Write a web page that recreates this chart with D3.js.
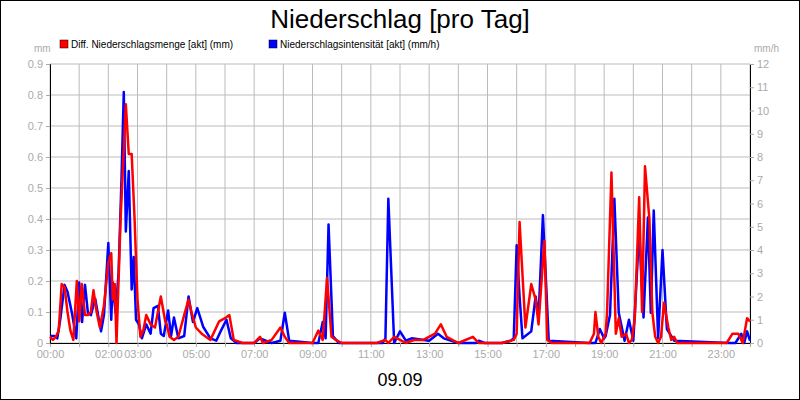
<!DOCTYPE html>
<html><head><meta charset="utf-8">
<script src="https://cdn.jsdelivr.net/npm/d3@7"></script>
<style>body{margin:0;background:#fff}</style></head>
<body><svg id="c" width="800" height="400"></svg>
<script>
const tickHours=[0,2,3,5,7,9,11,13,15,17,19,21,23];
const leftTicks=[0,0.1,0.2,0.3,0.4,0.5,0.6,0.7,0.8,0.9];
const rightTicks=[0,1,2,3,4,5,6,7,8,9,10,11,12];
// red: Diff. Niederschlagsmenge (mm)
const redT=[0,0.1,0.2,0.3,0.4,0.5,0.6,0.7,0.8,0.92,1.0,1.09,1.2,1.3,1.4,1.49,1.6,1.71,1.85,2.0,2.1,2.15,2.22,2.28,2.42,2.6,2.7,2.8,2.9,3.0,3.1,3.2,3.3,3.45,3.6,3.8,3.95,4.0,4.1,4.25,4.4,4.6,4.75,4.85,5.0,5.2,5.5,5.8,6.0,6.15,6.3,6.6,7.0,7.2,7.3,7.6,7.9,8.05,8.2,9.0,9.2,9.35,9.5,9.65,9.8,10.0,10.2,11.2,11.5,11.6,11.8,12.0,12.2,12.5,12.8,13.2,13.4,13.6,14.0,14.5,14.7,14.9,15.5,15.9,16.0,16.1,16.3,16.5,16.65,16.75,16.95,17.05,17.2,18.5,18.65,18.7,18.8,18.9,19.05,19.1,19.25,19.4,19.5,19.6,19.75,19.85,19.95,20.05,20.2,20.3,20.4,20.55,20.65,20.75,20.85,20.95,21.05,21.2,21.3,21.4,21.5,23.2,23.4,23.6,23.75,23.9,24];
const redV=[0.02,0.01,0.02,0.04,0.19,0.18,0.1,0.04,0.01,0.2,0.07,0.19,0.09,0.09,0.1,0.17,0.1,0.05,0.12,0.26,0.29,0.14,0.19,0.0,0.4,0.77,0.61,0.61,0.4,0.14,0.02,0.04,0.09,0.06,0.05,0.15,0.07,0.06,0.02,0.01,0.02,0.09,0.14,0.1,0.05,0.03,0.01,0.07,0.08,0.09,0.01,0,0,0.02,0,0.01,0.05,0.02,0,0,0.04,0.01,0.21,0.02,0.01,0,0,0,0.01,0,0.02,0.01,0,0.01,0.01,0.03,0.06,0.02,0,0.02,0,0,0,0.01,0.03,0.39,0.05,0.19,0.14,0.06,0.33,0.01,0,0,0.03,0.1,0.02,0,0.03,0.1,0.55,0.03,0.08,0.02,0.03,0,0.01,0.08,0.47,0.1,0.57,0.4,0.1,0.02,0,0.02,0.13,0.05,0.01,0.02,0,0,0.03,0.03,0,0.08,0.07];
// blue: Niederschlagsintensität (mm/h)
const blueT=[0,0.05,0.15,0.25,0.35,0.5,0.6,0.75,0.9,1.0,1.1,1.2,1.3,1.4,1.55,1.65,1.75,1.85,2.0,2.1,2.15,2.25,2.35,2.45,2.53,2.6,2.7,2.8,2.87,2.95,3.05,3.15,3.3,3.45,3.55,3.7,3.8,3.9,4.05,4.15,4.25,4.4,4.6,4.75,4.9,5.05,5.25,5.5,5.7,5.85,6.05,6.2,6.4,6.7,7.0,7.2,7.6,7.9,8.05,8.2,9.0,9.2,9.35,9.45,9.55,9.7,9.9,11.2,11.4,11.5,11.6,11.8,12.0,12.2,12.4,13.0,13.3,13.5,14.0,14.6,14.7,14.9,15.5,15.8,15.9,16.0,16.1,16.2,16.5,16.65,16.75,16.9,17.1,18.5,18.7,18.85,19.0,19.05,19.1,19.2,19.35,19.5,19.7,19.85,20.0,20.2,20.35,20.5,20.6,20.7,20.85,21.0,21.15,21.25,21.4,23.3,23.5,23.7,23.8,23.9,24];
const blueV=[0.3,0.3,0.3,0.2,1.0,2.5,2.2,1.3,0.2,2.6,0.9,2.5,1.3,1.2,1.9,1.2,0.5,1.2,4.3,1.0,2.6,1.3,3.0,7.0,10.8,4.8,7.4,2.3,3.7,1.0,0.8,0.2,0.8,0.4,1.5,1.6,0.4,0.3,1.4,0.3,1.1,0.2,0.3,2.0,0.9,1.5,0.7,0.2,0.1,0.5,1.0,0.2,0,0,0,0.2,0,0.1,1.3,0.1,0,0,0.9,0.2,5.1,0.3,0,0,0,0.2,6.2,0,0.5,0.1,0.2,0.1,0.4,0.2,0,0,0.1,0,0,0.1,0.2,4.2,2.0,0.2,0.5,2.0,1.1,5.5,0.1,0,0,0.6,0.2,0.3,0.6,1.2,6.2,1.3,0.1,1.0,0.1,4.8,1.1,5.4,1.3,5.7,0.2,4.0,0.6,0.4,0.1,0,0,0.4,0,0.5,0.1];
const svg=d3.select("#c");
svg.append("rect").attr("x",0.5).attr("y",0.5).attr("width",799).attr("height",399).attr("fill","#fff").attr("stroke","#000");
const L=50,R=750,T=64,B=343;
const x=d3.scaleLinear().domain([0,24]).range([L,R]);
const yl=d3.scaleLinear().domain([0,0.9]).range([B,T]);
const yr=d3.scaleLinear().domain([0,12]).range([B,T]);
const g=svg.append("g");
d3.range(0,25).forEach(h=>g.append("line").attr("x1",x(h)).attr("x2",x(h)).attr("y1",T).attr("y2",B).attr("stroke","#bbb"));
leftTicks.forEach(v=>g.append("line").attr("x1",L).attr("x2",R).attr("y1",yl(v)).attr("y2",yl(v)).attr("stroke","#bbb"));
const ax=svg.append("g").attr("transform",`translate(0,${B})`).call(d3.axisBottom(x).tickValues(d3.range(0,25)).tickSize(4).tickFormat(h=>tickHours.includes(h)?String(h).padStart(2,"0")+":00":""));
const al=svg.append("g").attr("transform",`translate(${L},0)`).call(d3.axisLeft(yl).tickValues(leftTicks).tickSize(4).tickFormat(d=>d===0?"0":d3.format(".1f")(d)));
const ar=svg.append("g").attr("transform",`translate(${R},0)`).call(d3.axisRight(yr).tickValues(rightTicks).tickSize(4));
[ax,al,ar].forEach(a=>{a.selectAll("text").attr("fill","#aaa").style("font-family","Arial, Liberation Sans").style("font-size","11px");a.select(".domain").attr("stroke","#000");a.selectAll(".tick line").attr("stroke","#aaa");});
const lineB=d3.line().x((d,i)=>x(blueT[i])).y(d=>yr(d));
const lineR=d3.line().x((d,i)=>x(redT[i])).y(d=>yl(d));
svg.append("path").attr("d",lineB(blueV)).attr("fill","none").attr("stroke","#0000ff").attr("stroke-width",2.5).attr("stroke-linejoin","round");
svg.append("path").attr("d",lineR(redV)).attr("fill","none").attr("stroke","#ff0000").attr("stroke-width",2.5).attr("stroke-linejoin","round");
const f="Arial, Liberation Sans";
svg.append("text").attr("x",400).attr("y",28).attr("text-anchor","middle").attr("font-family",f).attr("font-size",26).text("Niederschlag [pro Tag]");
svg.append("text").attr("x",400).attr("y",386).attr("text-anchor","middle").attr("font-family",f).attr("font-size",18).text("09.09");
svg.append("text").attr("x",34).attr("y",52).attr("font-family",f).attr("font-size",10).attr("fill","#aaa").text("mm");
svg.append("text").attr("x",754).attr("y",52).attr("font-family",f).attr("font-size",10).attr("fill","#aaa").text("mm/h");
svg.append("rect").attr("x",60).attr("y",40).attr("width",8).attr("height",8).attr("fill","#ff0000").attr("stroke","#000").attr("stroke-width",0.5);
svg.append("text").attr("x",71).attr("y",48).attr("font-family",f).attr("font-size",10).text("Diff. Niederschlagsmenge [akt] (mm)");
svg.append("rect").attr("x",269).attr("y",40).attr("width",8).attr("height",8).attr("fill","#0000ff").attr("stroke","#000").attr("stroke-width",0.5);
svg.append("text").attr("x",280).attr("y",48).attr("font-family",f).attr("font-size",10).text("Niederschlagsintensität [akt] (mm/h)");
</script></body></html>
